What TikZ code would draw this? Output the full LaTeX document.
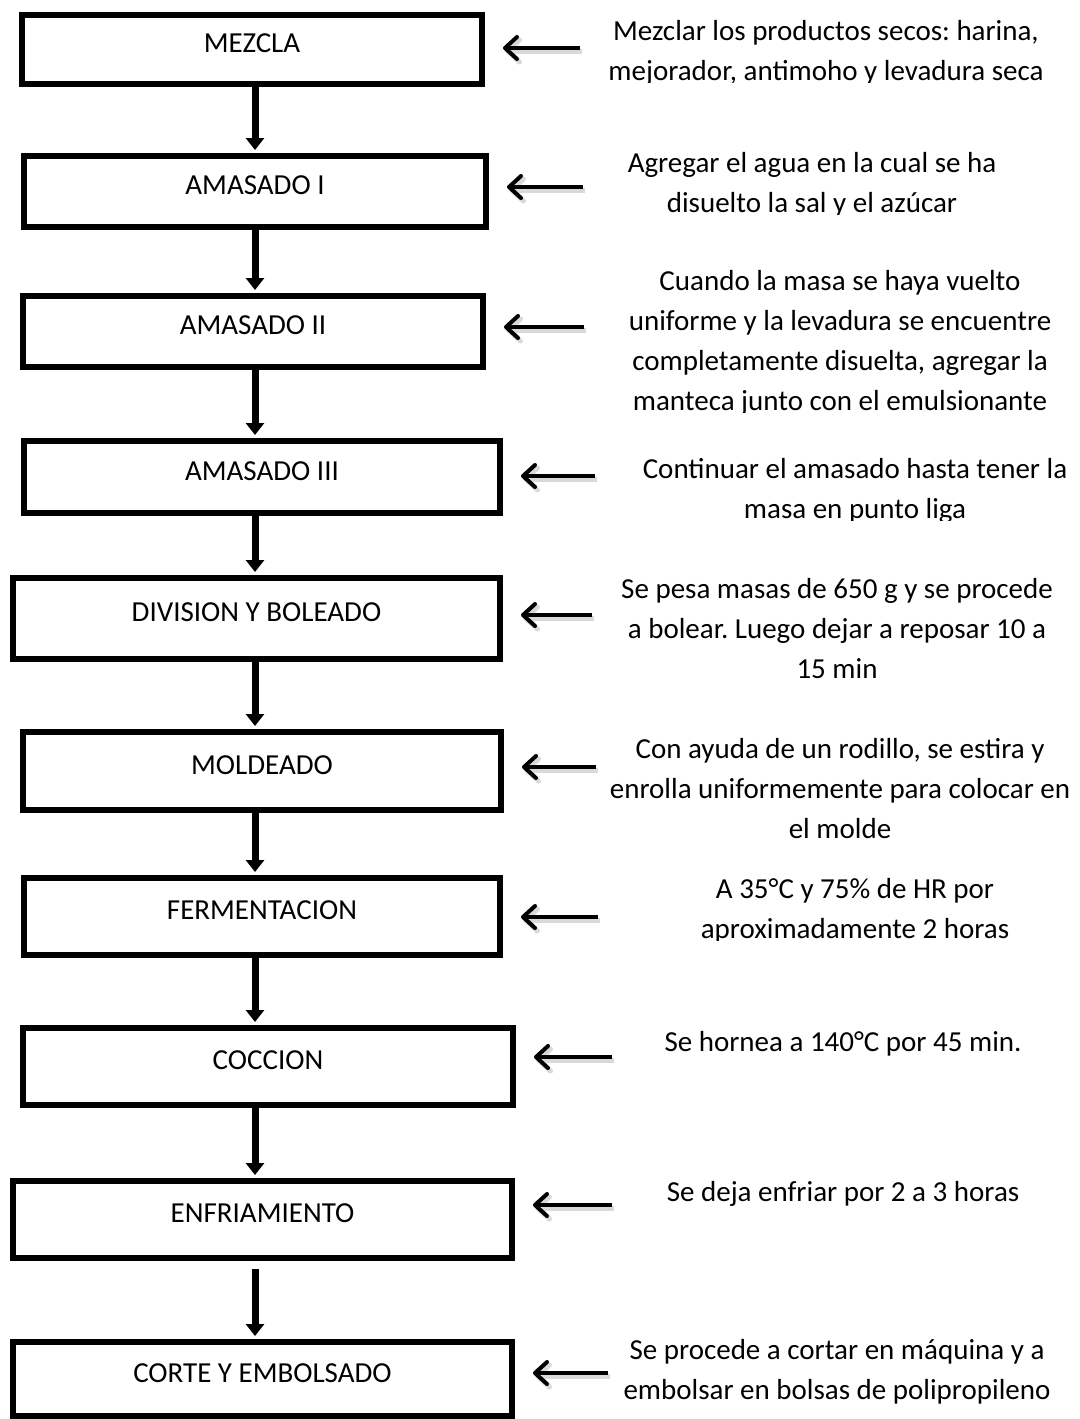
\documentclass[tikz,border=0pt]{standalone}
\usepackage{fontspec}
\setmainfont{Carlito}
\usetikzlibrary{arrows.meta}
\frenchspacing
\newcommand{\fs}{\fontsize{14.5pt}{20pt}\selectfont}
% step box: name, x, y, width, height (pt), text
\newcommand{\paso}[6]{
\node[paso, minimum width=#4pt, minimum height=#5pt] (#1) at (#2,#3) {#6};
}
% note on the right: name, x, baseline of last line, text
\newcommand{\nota}[4]{
\node[nota] (#1) at (#2,#3) {#4};
}
% same, but cut just under the baseline
\newcommand{\notac}[4]{
\begin{scope}
\clip (560,0) rectangle (1080,#3+1.5);
\node[nota] (#1) at (#2,#3) {#4};
\end{scope}
}
% arrow from the note side: box, x, y
\newcommand{\flecha}[3]{
\coordinate (#1t) at (#2,#3);
\draw[flecha] (#1t) -- (#1t -| #1.east);
}

\begin{document}
\begin{tikzpicture}[x=0.5pt,y=-0.5pt,
  paso/.style={draw, line width=3pt, inner sep=0pt, text height=9.4pt, text depth=6pt, font=\fs},
  nota/.style={align=center, inner sep=0pt, text depth=0pt, anchor=south, font=\fs},
  baja/.style={line width=3.5pt, -{Triangle[length=6pt,width=9pt]}, shorten >=1.5pt},
  flecha/.style={line width=2pt, -{Straight Barb[length=6pt,width=11pt,round]}, shorten >=9pt,
    preaction={draw=black!15, line width=2.5pt, transform canvas={shift={(1pt,-1.5pt)}}}}]

\useasboundingbox (0,0) rectangle (1080,1419);

% steps
\paso{mezcla}{252}{49.5}{230}{34.5}{MEZCLA}
\paso{amasI}{255}{191.5}{231}{35.5}{AMASADO I}
\paso{amasII}{253}{331.5}{230}{35.5}{AMASADO II}
\paso{amasIII}{262}{477}{238}{36}{AMASADO III}
\paso{division}{256.5}{618.5}{243.5}{40.5}{DIVISION Y BOLEADO}
\paso{moldeado}{262}{771}{239}{39}{MOLDEADO}
\paso{ferm}{262}{916.5}{238}{38.5}{FERMENTACION}
\paso{coccion}{268}{1066.5}{245}{38.5}{COCCION}
\paso{enfri}{262.5}{1219.5}{249.5}{38.5}{ENFRIAMIENTO}
\paso{corte}{262.5}{1379}{249.5}{37}{CORTE Y EMBOLSADO}

% flow down
\coordinate (eje) at (255,0);
\foreach \a/\b in {mezcla/amasI,amasI/amasII,amasII/amasIII,amasIII/division,
  division/moldeado,moldeado/ferm,ferm/coccion,coccion/enfri}
  \draw[baja] (\a.south -| eje) -- (\b.north -| eje);
\draw[baja, shorten <=4pt] (enfri.south -| eje) -- (corte.north -| eje);

% notes
\notac{mezN}{826}{81}{Mezclar los productos secos: harina,\\mejorador, antimoho y levadura seca}
\notac{amasIN}{812}{213}{Agregar el agua en la cual se ha\\disuelto la sal y el azúcar}
\notac{amasIIN}{840}{411}{Cuando la masa se haya vuelto\\uniforme y la levadura se encuentre\\completamente disuelta, agregar la\\manteca junto con el emulsionante}
\notac{amasIIIN}{855}{519}{Continuar el amasado hasta tener la\\masa en punto liga}
\nota{divN}{837}{679}{Se pesa masas de 650 g y se procede\\a bolear. Luego dejar a reposar 10 a\\15 min}
\nota{moldN}{840}{839}{Con ayuda de un rodillo, se estira y\\enrolla uniformemente para colocar en\\el molde}
\notac{fermN}{855}{939}{A 35°C y 75\% de HR por\\aproximadamente 2 horas}
\nota{coccN}{843}{1052}{Se hornea a 140°C por 45 min.}
\nota{enfriN}{843}{1202}{Se deja enfriar por 2 a 3 horas}
\nota{corteN}{837}{1400}{Se procede a cortar en máquina y a\\embolsar en bolsas de polipropileno}

% arrows from the notes
\flecha{mezcla}{580}{48}
\flecha{amasI}{583}{187}
\flecha{amasII}{584}{327}
\flecha{amasIII}{595}{476}
\flecha{division}{592}{615}
\flecha{moldeado}{596}{767}
\flecha{ferm}{598}{917}
\flecha{coccion}{612}{1057}
\flecha{enfri}{612}{1205}
\flecha{corte}{608}{1373}

\end{tikzpicture}
\end{document}
